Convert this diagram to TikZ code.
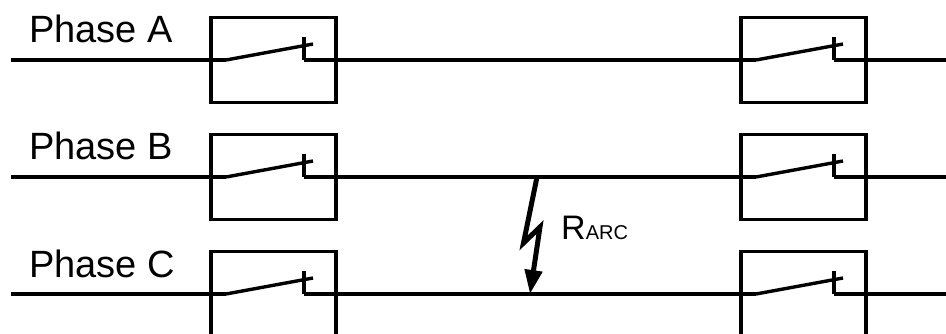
\documentclass[tikz,border=0pt]{standalone}
\usepackage{fontspec}
\setmainfont{Liberation Sans}
\usetikzlibrary{arrows.meta, positioning, calc}

\tikzset{
    brk/.style={draw, rectangle, line width=3.4pt, outer sep=0pt, minimum width=125pt, minimum height=85pt},
    wire/.style={line width=3.4pt},
    bolt/.style={line width=5pt, -{Triangle[width=17pt, length=24pt]}},
    phaselbl/.style={anchor=base west, inner sep=0pt, font=\fontsize{38}{38}\selectfont}
}

\begin{document}
\begin{tikzpicture}[x=1pt, y=1pt]
        \useasboundingbox (0,0) rectangle (946,-334);
        % breakers, left and right of the line
        \node[brk] (LA) at (273.5,-60) {};
        \node[brk, below=32pt of LA] (LB) {};
        \node[brk, below=32pt of LB] (LC) {};
        \node[brk, right=405pt of LA] (RA) {};
        \node[brk, right=405pt of LB] (RB) {};
        \node[brk, right=405pt of LC] (RC) {};

        \foreach \p in {A,B,C}{
            \coordinate (in\p) at ($(L\p.west)+(-200,0)$);
            \coordinate (out\p) at ($(R\p.east)+(80,0)$);
            \node[phaselbl] (lbl\p) at ($(in\p)+(18,17)$) {Phase \p};
            \foreach \s in {L,R}{
                \draw[wire] ($(\s\p.west)+(15,0)$) coordinate (bs\s\p) -- ++(87,16);
                \draw[wire] ($(\s\p.west)+(93,23)$) -- ++(0,-23) coordinate (ct\s\p);
            }
            \draw[wire] (in\p) -- (bsL\p);
            \draw[wire] (ctL\p) -- (bsR\p);
            \draw[wire] (ctR\p) -- (out\p);
        }

        % arc between phase B and C
        \coordinate (arcTop) at ($(LB.east)+(201,0)$);
        \coordinate (arcBot) at ($(LC.east)+(194,0)$);
        \draw[bolt] (arcTop) -- ++(-13.5,-66) -- ++(16.5,16) -- (arcBot);
        \node[anchor=base west, inner sep=0pt] (rarc) at ($(arcTop)+(24,-63)$)
            {{\fontsize{34}{34}\selectfont R}{\fontsize{20}{20}\selectfont ARC}};
    \end{tikzpicture}
\end{document}
